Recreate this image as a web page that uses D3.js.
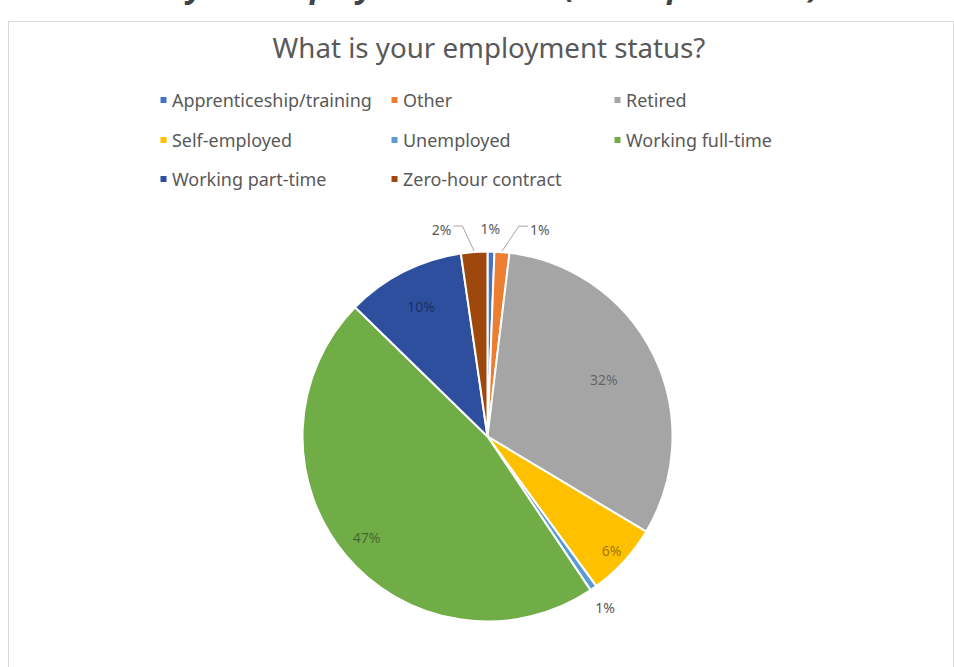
<!DOCTYPE html>
<html>
<head>
<meta charset="utf-8">
<script src="https://cdn.jsdelivr.net/npm/d3@7"></script>
<style>
  html, body { margin: 0; padding: 0; background: #fff; }
  svg { display: block; }
</style>
</head>
<body>
<svg id="chart" width="954" height="667"></svg>
<script>
// ---- data ----
const pageHeading = "What is your employment status (all respondents)";
const chartTitle = "What is your employment status?";
const categories = ["Apprenticeship/training", "Other", "Retired", "Self-employed",
                    "Unemployed", "Working full-time", "Working part-time", "Zero-hour contract"];
const values = [0.6, 1.3, 31.7, 6.4, 0.6, 46.7, 10.4, 2.3];   // percent of respondents
const colors = ["#4472C4", "#ED7D31", "#A5A5A5", "#FFC000",
                "#5B9BD5", "#70AD47", "#2D4F9E", "#9E480E"];

// ---- layout ----
const W = 954, H = 667;
const cx = 487.5, cy = 436.5, R = 185;
const font = "'Noto Sans', 'Open Sans', sans-serif";
const textGray = "#595959";

const svg = d3.select("#chart");

function fitWidth(sel, target) {
  const fs = parseFloat(sel.attr("font-size"));
  const w = sel.node().getComputedTextLength();
  sel.attr("font-size", (fs * target / w).toFixed(2));
}

// page heading, cut off by the top of the window (as in the reference)
const heading = svg.append("text")
  .attr("x", 0).attr("y", -3)
  .attr("font-family", font).attr("font-weight", "bold").attr("font-style", "italic")
  .attr("font-size", 32).attr("fill", "#3F4448")
  .text(pageHeading);
{
  const yPos = heading.node().getStartPositionOfChar(8).x;
  heading.attr("x", 187 - yPos);
}

// chart area frame
svg.append("rect")
  .attr("x", 8.5).attr("y", 21.5).attr("width", W - 9).attr("height", H)
  .attr("fill", "#fff").attr("stroke", "#D9D9D9").attr("stroke-width", 1);

// title
const title = svg.append("text")
  .attr("x", 489).attr("y", 47)
  .attr("text-anchor", "middle").attr("dominant-baseline", "central")
  .attr("font-family", font).attr("font-size", 22).attr("fill", textGray)
  .text(chartTitle);
fitWidth(title, 433);

// legend
const legendCols = [160, 391, 614];
const legendRows = [100, 140, 179];
const legend = svg.append("g");
categories.forEach((c, i) => {
  const col = i % 3, row = Math.floor(i / 3);
  const g = legend.append("g")
    .attr("transform", `translate(${legendCols[col]},${legendRows[row]})`);
  g.append("rect").attr("x", 0.5).attr("y", -3).attr("width", 6).attr("height", 6)
    .attr("fill", colors[i]);
  g.append("text").attr("x", 12).attr("y", 0)
    .attr("dominant-baseline", "central")
    .attr("font-family", font).attr("font-size", 15).attr("fill", textGray)
    .text(c);
});
// scale legend font to match reference width of the first entry
{
  const first = legend.select("text");
  const w = first.node().getComputedTextLength();
  const fs = (15 * 200 / w).toFixed(2);
  legend.selectAll("text").attr("font-size", fs);
}

// pie
const pie = d3.pie().sort(null).value(d => d).startAngle(0).endAngle(2 * Math.PI);
const arcs = pie(values);
const arc = d3.arc().innerRadius(0).outerRadius(R);
const fmt = d3.format(".0%");

const pieG = svg.append("g").attr("transform", `translate(${cx},${cy})`);
pieG.selectAll("path").data(arcs).join("path")
  .attr("d", arc)
  .attr("fill", (d, i) => colors[i])
  .attr("stroke", "#fff").attr("stroke-width", 2).attr("stroke-linejoin", "round");

// labels
const insideRadius = { "Retired": 0.70, "Self-employed": 0.91, "Working full-time": 0.85, "Working part-time": 0.79 };
const outsideShift = { "Zero-hour contract": [-31, -1], "Apprenticeship/training": [-1, -1], "Other": [36, -1], "Unemployed": [-1, 1] };
const labelSize = 14;

arcs.forEach((d, i) => {
  const name = categories[i];
  const mid = (d.startAngle + d.endAngle) / 2;
  const sx = Math.sin(mid), sy = -Math.cos(mid);
  const txt = fmt(values[i] / 100);
  if (values[i] >= 3) {
    const r = R * (insideRadius[name] || 0.75);
    pieG.append("text")
      .attr("x", r * sx).attr("y", r * sy)
      .attr("text-anchor", "middle").attr("dominant-baseline", "central")
      .attr("font-family", font).attr("font-size", labelSize)
      .attr("fill", "#000").attr("fill-opacity", 0.42)
      .text(txt);
  } else {
    const r = R + 22;
    const sh = outsideShift[name] || [0, 0];
    const lx = r * sx + sh[0], ly = r * sy + sh[1];
    const t = pieG.append("text")
      .attr("x", lx).attr("y", ly)
      .attr("text-anchor", "middle").attr("dominant-baseline", "central")
      .attr("font-family", font).attr("font-size", labelSize).attr("fill", textGray)
      .text(txt);
    const tw = t.node().getComputedTextLength();
    const ax = (R + 1) * sx, ay = (R + 1) * sy;
    if (Math.abs(lx - ax) > tw / 2 + 4) {
      const side = lx < ax ? 1 : -1;
      const x0 = lx + side * (tw / 2 + 2);
      const x1 = x0 + side * 9;
      pieG.append("polyline")
        .attr("points", [[x0, ly - 3], [x1, ly - 3], [ax, ay]].map(p => p.join(",")).join(" "))
        .attr("fill", "none").attr("stroke", "#A6A6A6").attr("stroke-width", 1);
    }
  }
});
</script>
</body>
</html>
